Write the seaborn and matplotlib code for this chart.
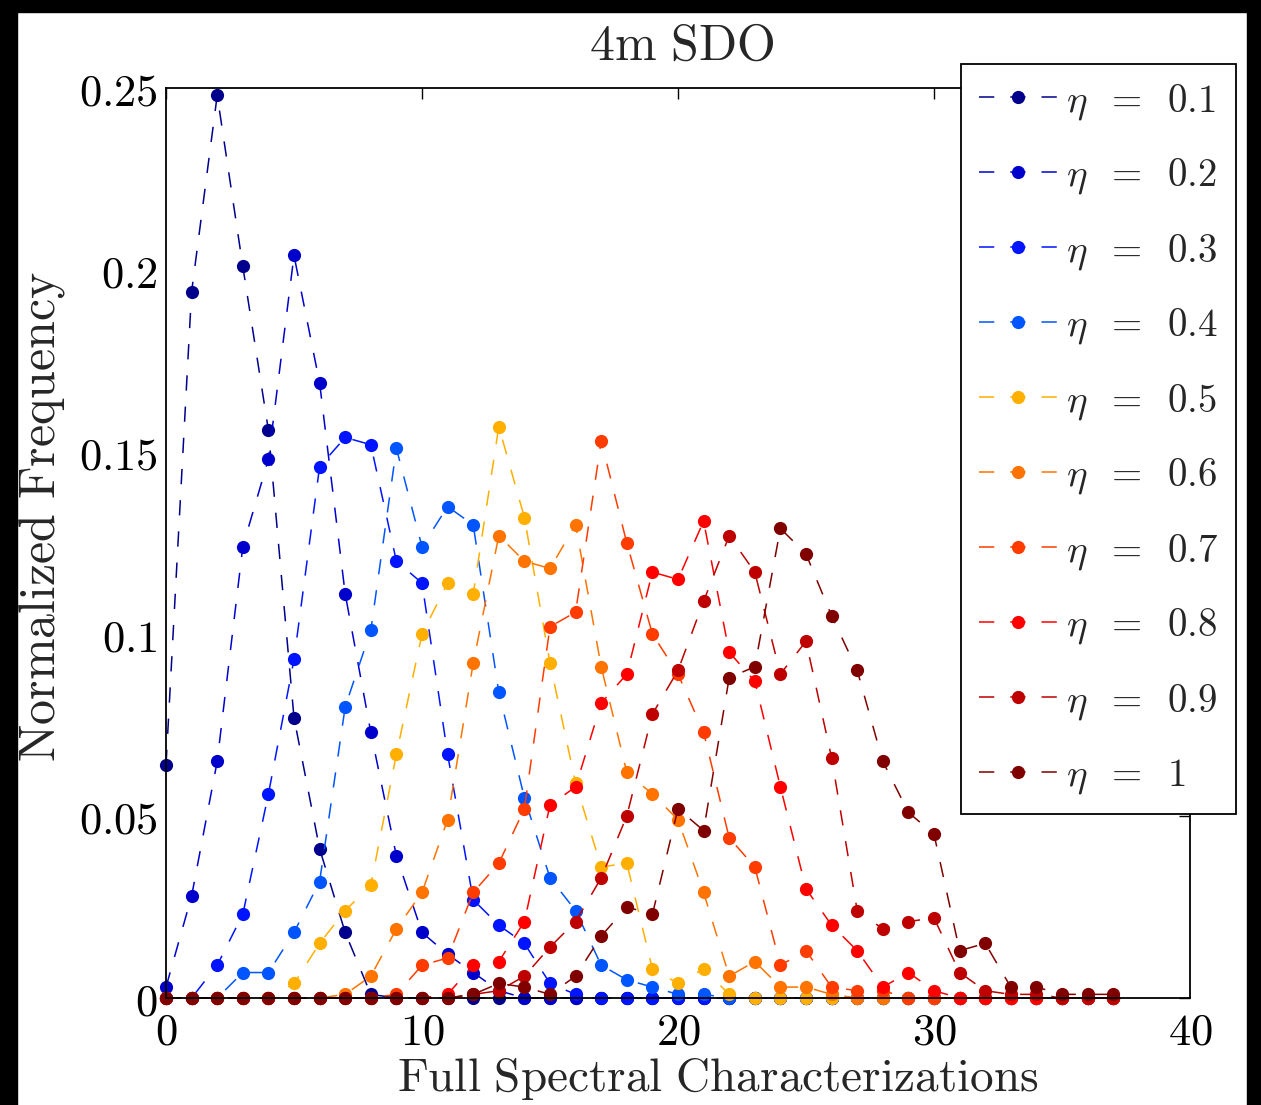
import matplotlib
matplotlib.use('Agg')
import matplotlib.pyplot as plt
import seaborn as sns
import pandas as pd
from matplotlib.patches import Rectangle

sns.set_style('white')
plt.rcParams['mathtext.fontset'] = 'cm'
plt.rcParams['font.family'] = ['DejaVu Serif']
plt.rcParams['lines.scale_dashes'] = False

# ---------------- data ----------------
bins = list(range(38))
eta_labels = ['0.1', '0.2', '0.3', '0.4', '0.5', '0.6', '0.7', '0.8', '0.9', '1']
colors = ['#00008C', '#0000CD', '#0014FF', '#0055FF', '#FFAF00',
          '#FF7300', '#FF3C00', '#FF0000', '#BE0000', '#800000']

eta01 = [0.064, 0.194, 0.248, 0.201, 0.156, 0.077, 0.041, 0.018, 0.001, 0, 0, 0, 0, 0, 0, 0, 0, 0, 0,
         0, 0, 0, 0, 0, 0, 0, 0, 0, 0, 0, 0, 0, 0, 0, 0, 0, 0, 0]
eta02 = [0.003, 0.028, 0.065, 0.124, 0.148, 0.204, 0.169, 0.111, 0.073, 0.039, 0.018, 0.012, 0.007, 0.002, 0, 0, 0, 0, 0,
         0, 0, 0, 0, 0, 0, 0, 0, 0, 0, 0, 0, 0, 0, 0, 0, 0, 0, 0]
eta03 = [0, 0, 0.009, 0.023, 0.056, 0.093, 0.146, 0.154, 0.152, 0.120, 0.114, 0.067, 0.027, 0.020, 0.015, 0.004, 0.001, 0, 0,
         0, 0, 0, 0, 0, 0, 0, 0, 0, 0, 0, 0, 0, 0, 0, 0, 0, 0, 0]
eta04 = [0, 0, 0, 0.007, 0.007, 0.018, 0.032, 0.080, 0.101, 0.151, 0.124, 0.135, 0.130, 0.084, 0.055, 0.033, 0.024, 0.009, 0.005,
         0.003, 0.001, 0.001, 0, 0, 0, 0, 0, 0, 0, 0, 0, 0, 0, 0, 0, 0, 0, 0]
eta05 = [0, 0, 0, 0, 0, 0.004, 0.015, 0.024, 0.031, 0.067, 0.100, 0.114, 0.111, 0.157, 0.132, 0.092, 0.059, 0.036, 0.037,
         0.008, 0.004, 0.008, 0.001, 0, 0, 0, 0, 0, 0, 0, 0, 0, 0, 0, 0, 0, 0, 0]
eta06 = [0, 0, 0, 0, 0, 0, 0, 0.001, 0.006, 0.019, 0.029, 0.049, 0.092, 0.127, 0.120, 0.118, 0.130, 0.091, 0.062,
         0.056, 0.049, 0.029, 0.006, 0.010, 0.003, 0.003, 0.001, 0, 0, 0, 0, 0, 0, 0, 0, 0, 0, 0]
eta07 = [0, 0, 0, 0, 0, 0, 0, 0, 0, 0.001, 0.009, 0.011, 0.029, 0.037, 0.052, 0.102, 0.106, 0.153, 0.125,
         0.100, 0.089, 0.073, 0.044, 0.036, 0.009, 0.013, 0.003, 0.002, 0.002, 0, 0, 0, 0, 0, 0, 0, 0, 0]
eta08 = [0, 0, 0, 0, 0, 0, 0, 0, 0, 0, 0, 0.001, 0.009, 0.010, 0.021, 0.053, 0.058, 0.081, 0.089,
         0.117, 0.115, 0.131, 0.095, 0.087, 0.058, 0.030, 0.020, 0.013, 0.003, 0.007, 0.002, 0, 0, 0, 0, 0, 0, 0]
eta09 = [0, 0, 0, 0, 0, 0, 0, 0, 0, 0, 0, 0, 0.001, 0.002, 0.006, 0.014, 0.021, 0.033, 0.050,
         0.078, 0.090, 0.109, 0.127, 0.117, 0.089, 0.098, 0.066, 0.024, 0.019, 0.021, 0.022, 0.007, 0.002, 0.001, 0.001, 0, 0, 0]
eta10 = [0, 0, 0, 0, 0, 0, 0, 0, 0, 0, 0, 0, 0.001, 0.004, 0.003, 0.001, 0.006, 0.017, 0.025,
         0.023, 0.052, 0.046, 0.088, 0.091, 0.129, 0.122, 0.105, 0.090, 0.065, 0.051, 0.045, 0.013, 0.015, 0.003, 0.003, 0.001, 0.001, 0.001]

series = [eta01, eta02, eta03, eta04, eta05, eta06, eta07, eta08, eta09, eta10]

xticks = [0, 10, 20, 30, 40]
xtick_labels = ['0', '10', '20', '30', '40']
yticks = [0, 0.05, 0.1, 0.15, 0.2, 0.25]
ytick_labels = ['0', '0.05', '0.1', '0.15', '0.2', '0.25']

# ---------------- figure ----------------
W, H = 1261, 1105
fig = plt.figure(figsize=(W / 100, H / 100), dpi=100)
fig.patch.set_facecolor('white')
ax = fig.add_axes([166 / W, 107 / H, 1024 / W, 910 / H])
ax.set_facecolor('white')

dash = (0, (11, 11.5))
for vals, col, lab in zip(series, colors, eta_labels):
    df = pd.DataFrame({'x': bins, 'y': vals})
    sns.lineplot(data=df, x='x', y='y', ax=ax, color=col, linestyle=dash, lw=1.1,
                 marker='o', markersize=9.5, markeredgewidth=0, errorbar=None,
                 label=r'$\eta\;\;=\;\;%s$' % lab, legend=False, clip_on=False)

ax.set_xlim(0, 40)
ax.set_ylim(0, 0.25)
ax.set_xticks(xticks)
ax.set_xticklabels([r'$%s$' % t for t in xtick_labels])
ax.set_yticks(yticks)
ax.set_yticklabels([r'$%s$' % t for t in ytick_labels])
ax.tick_params(direction='in', length=8, width=1, top=True, right=True,
               labelsize=32, colors='black')
ax.tick_params(axis='x', pad=9)
ax.tick_params(axis='y', pad=6)
ax.set_xlabel('')
ax.set_ylabel('')
for sp in ax.spines.values():
    sp.set_visible(True)
    sp.set_color('black')
    sp.set_linewidth(1.3)

handles = ax.lines[:len(series)]
leg = ax.legend(handles=handles, labels=[r'$\eta\;\;=\;\;%s$' % l for l in eta_labels],
                loc='upper right', bbox_to_anchor=(1236 / W, 1 - 64 / H),
                bbox_transform=fig.transFigure, borderaxespad=0,
                fontsize=28, handlelength=2.0, handletextpad=0.25,
                labelspacing=0.9, borderpad=0.45, fancybox=False, framealpha=1,
                edgecolor='black', numpoints=1)
leg.get_frame().set_linewidth(1.3)
leg.set_zorder(10)

fig.text(682 / W, 1 - 46 / H, r'$\mathrm{4m\ SDO}$', ha='center', va='center', fontsize=36)
fig.text(718 / W, 1 - 1091 / H, r'$\mathrm{Full\ Spectral\ Characterizations}$',
         ha='center', va='baseline', fontsize=34)
fig.text(42 / W, 1 - 516 / H, r'$\mathrm{Normalized\ Frequency}$', ha='center', va='center',
         rotation=90, fontsize=36)

# black frame bands
fig.patches.append(Rectangle((0, 0), 17 / W, 1, transform=fig.transFigure, color='black', zorder=20))
fig.patches.append(Rectangle((0, 1 - 12 / H), 1, 12 / H, transform=fig.transFigure, color='black', zorder=20))
fig.patches.append(Rectangle((1247 / W, 0), 14 / W, 1, transform=fig.transFigure, color='black', zorder=20))

fig.savefig('out.png', dpi=100, facecolor='white')
